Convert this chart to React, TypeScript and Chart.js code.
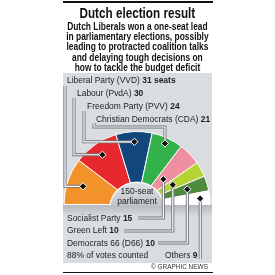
import React, { useEffect, useRef } from "react";
import { Chart, registerables } from "chart.js";

Chart.register(...registerables);

const parties = [
  "Liberal Party (VVD)",
  "Labour (PvdA)",
  "Freedom Party (PVV)",
  "Christian Democrats (CDA)",
  "Socialist Party",
  "Green Left",
  "Democrats 66 (D66)",
  "Others",
];
const seats = [31, 30, 24, 21, 15, 10, 10, 9];
const sliceColors = ["#f3922a", "#e8282f", "#11477a", "#33b24c", "#ee8f9f", "#b6d335", "#4f8a3f", "#ffffff"];

const title = "Dutch election result";
const subtitleLines = [
  "Dutch Liberals won a one-seat lead",
  "in parliamentary elections, possibly",
  "leading to protracted coalition talks",
  "and delaying tough decisions on",
  "how to tackle the budget deficit",
];
const centerLines = ["150-seat", "parliament"];
const countedNote = "88% of votes counted";
const credit = "© GRAPHIC NEWS";

// layout (not data): diamond radial position as fraction of outer radius
const diamondRadius = [0.78, 0.83, 0.86, 0.92, 0.5, 0.56, 0.72, 0.87];
// label layout: x, center y, leader anchor
const labelLayout = [
  { x: 67, cy: 80, side: "top", lx: 65, ly: 86 },
  { x: 77, cy: 93, side: "top", lx: 74, ly: 98 },
  { x: 87, cy: 106, side: "top", lx: 84, ly: 111 },
  { x: 96, cy: 118.5, side: "topElbow", lx: 94, ly: 123, ey: 127 },
  { x: 67, cy: 217.5, side: "bottom", lx: 138, ly: 218 },
  { x: 67, cy: 230, side: "bottom", lx: 124, ly: 231 },
  { x: 67, cy: 242.5, side: "bottom", lx: 158, ly: 243 },
  { x: 197, cy: 255, side: "right", lx: 201, ly: 259 },
];

const PANEL = { l: 63, r: 212, t: 73, b: 263 };
const LABEL_SCALE = 0.89;

export default function App() {
  const ref = useRef<HTMLCanvasElement | null>(null);

  useEffect(() => {
    document.body.style.margin = "0";
    const canvas = ref.current!;
    const bgPlugin = {
      id: "bg",
      beforeDraw(chart: any) {
        const ctx = chart.ctx;
        ctx.save();
        ctx.fillStyle = "#111";
        ctx.fillRect(63, 1, 150, 2);
        ctx.fillRect(63, 272, 150, 1);
        ctx.fillStyle = "#d9dce1";
        ctx.fillRect(PANEL.l, PANEL.t, PANEL.r - PANEL.l, PANEL.b - PANEL.t);
        const meta = chart.getDatasetMeta(0);
        const a0 = meta.data[0];
        const baseY = a0 ? a0.y : 205;
        const g = ctx.createLinearGradient(0, baseY, 0, baseY + 12);
        g.addColorStop(0, "#b3b6bc");
        g.addColorStop(1, "#d9dce1");
        ctx.fillStyle = g;
        ctx.fillRect(PANEL.l, baseY, PANEL.r - PANEL.l, 12);
        ctx.restore();
      },
    };
    const overlayPlugin = {
      id: "overlay",
      afterDatasetsDraw(chart: any) {
        const ctx = chart.ctx;
        const meta = chart.getDatasetMeta(0);
        const arcs = meta.data as any[];
        if (!arcs.length) return;
        const cx = arcs[0].x;
        const cy = arcs[0].y;
        const or = arcs[0].outerRadius;
        ctx.save();
        // inner "150-seat" disc, centred a little below the baseline
        const icy = cy + 5;
        const irad = or * 0.375;
        ctx.save();
        ctx.beginPath();
        ctx.rect(cx - irad - 3, icy - irad - 3, irad * 2 + 6, cy + 1 - (icy - irad - 3));
        ctx.clip();
        ctx.beginPath();
        ctx.arc(cx, icy, irad, 0, 2 * Math.PI);
        const g = ctx.createLinearGradient(0, icy - irad, 0, cy);
        g.addColorStop(0, "#dcdfe3");
        g.addColorStop(1, "#c3c6cb");
        ctx.fillStyle = g;
        ctx.fill();
        ctx.strokeStyle = "#f4f5f6";
        ctx.lineWidth = 1.5;
        ctx.stroke();
        ctx.restore();

        arcs.forEach((arc: any, i: number) => {
          const mid = (arc.startAngle + arc.endAngle) / 2;
          const r = arc.outerRadius * diamondRadius[i];
          const dx = cx + Math.cos(mid) * r;
          const dy = cy + Math.sin(mid) * r;
          const L = labelLayout[i];
          let pts: number[][] = [];
          if (L.side === "top") pts = [[L.lx, L.ly], [L.lx, dy], [dx, dy]];
          else if (L.side === "topElbow") pts = [[L.lx, L.ly], [L.lx, L.ey!], [dx, L.ey!], [dx, dy]];
          else if (L.side === "bottom") pts = [[L.lx, L.ly], [dx, L.ly], [dx, dy]];
          else pts = [[dx, L.ly], [dx, dy]];
          const path = () => {
            ctx.beginPath();
            pts.forEach((p, k) => (k ? ctx.lineTo(p[0], p[1]) : ctx.moveTo(p[0], p[1])));
          };
          ctx.lineJoin = "miter";
          path();
          ctx.strokeStyle = "#6e7176";
          ctx.lineWidth = 3;
          ctx.stroke();
          path();
          ctx.strokeStyle = "#ffffff";
          ctx.lineWidth = 1.2;
          ctx.stroke();
          const s = 3.6;
          ctx.beginPath();
          ctx.moveTo(dx, dy - s);
          ctx.lineTo(dx + s, dy);
          ctx.lineTo(dx, dy + s);
          ctx.lineTo(dx - s, dy);
          ctx.closePath();
          ctx.fillStyle = "#111";
          ctx.fill();
          ctx.strokeStyle = "#ffffff";
          ctx.lineWidth = 1;
          ctx.stroke();
        });
        ctx.restore();
      },
    };
    const chart = new Chart(canvas, {
      type: "doughnut",
      data: {
        labels: parties,
        datasets: [
          {
            data: seats,
            backgroundColor: sliceColors,
            borderColor: "#ffffff",
            borderWidth: 1,
          },
        ],
      },
      options: {
        responsive: false,
        animation: false,
        rotation: -90,
        circumference: 180,
        cutout: "28%",
        layout: { padding: { left: 63, right: 64, top: 131, bottom: 70 } },
        plugins: { legend: { display: false }, tooltip: { enabled: false } },
      } as any,
      plugins: [bgPlugin, overlayPlugin],
    });
    return () => chart.destroy();
  }, []);

  const font = '"Liberation Sans", Arial, Helvetica, sans-serif';
  const label = (i: number, extra?: string) => {
    const L = labelLayout[i];
    const isRight = L.side === "right";
    return (
      <div
        key={i}
        style={{
          position: "absolute",
          left: isRight ? undefined : L.x,
          right: isRight ? 275 - L.x : undefined,
          top: L.cy - 6,
          height: 12,
          lineHeight: "12px",
          fontSize: 9.5,
          color: "#222",
          whiteSpace: "nowrap",
          transform: `scaleX(${LABEL_SCALE})`,
          transformOrigin: isRight ? "right center" : "left center",
        }}
      >
        {parties[i]} <b>{seats[i]}{extra || ""}</b>
      </div>
    );
  };

  return (
    <div style={{ position: "relative", width: 275, height: 275, background: "#fff", fontFamily: font, overflow: "hidden" }}>
      <canvas ref={ref} width={275} height={275} style={{ position: "absolute", left: 0, top: 0, width: 275, height: 275 }} />
      <div
        style={{
          position: "absolute",
          left: 0,
          width: 275,
          top: 4,
          height: 18,
          lineHeight: "18px",
          textAlign: "center",
          fontWeight: "bold",
          fontSize: 15,
          color: "#111",
          transform: "scaleX(0.78)",
          transformOrigin: "137px 0",
          whiteSpace: "nowrap",
        }}
      >
        {title}
      </div>
      {subtitleLines.map((t, i) => (
        <div
          key={t}
          style={{
            position: "absolute",
            left: 0,
            width: 275,
            top: 20.5 + i * 10.4,
            height: 11,
            lineHeight: "11px",
            textAlign: "center",
            fontWeight: "bold",
            fontSize: 10,
            color: "#111",
            transform: "scaleX(0.84)",
            transformOrigin: "137px 0",
            whiteSpace: "nowrap",
          }}
        >
          {t}
        </div>
      ))}
      {label(0, " seats")}
      {label(1)}
      {label(2)}
      {label(3)}
      {label(4)}
      {label(5)}
      {label(6)}
      {label(7)}
      <div
        style={{
          position: "absolute",
          left: 67,
          top: 249,
          height: 12,
          lineHeight: "12px",
          fontSize: 9.5,
          color: "#222",
          whiteSpace: "nowrap",
          transform: `scaleX(${LABEL_SCALE})`,
          transformOrigin: "left center",
        }}
      >
        {countedNote}
      </div>
      {centerLines.map((t, i) => (
        <div
          key={t}
          style={{
            position: "absolute",
            left: 97,
            width: 80,
            top: 185 + i * 10.2,
            height: 11,
            lineHeight: "11px",
            textAlign: "center",
            fontSize: 9.5,
            color: "#222",
            transform: `scaleX(${LABEL_SCALE})`,
            transformOrigin: "40px center",
          }}
        >
          {t}
        </div>
      ))}
      <div
        style={{
          position: "absolute",
          right: 67,
          top: 262,
          height: 10,
          lineHeight: "10px",
          fontSize: 7,
          color: "#333",
          whiteSpace: "nowrap",
          transform: "scaleX(0.92)",
          transformOrigin: "right center",
        }}
      >
        {credit}
      </div>
    </div>
  );
}
